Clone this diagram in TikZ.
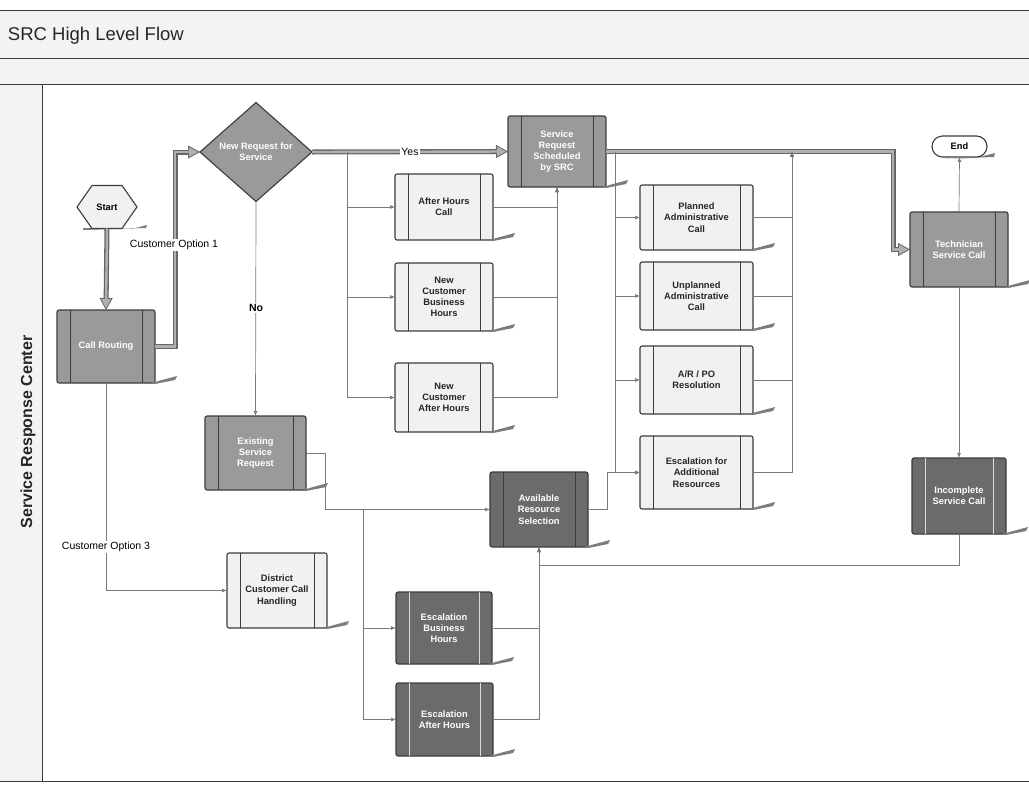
\documentclass[tikz,border=0pt]{standalone}
\usepackage{fontspec}
\setmainfont{Liberation Sans}
\usetikzlibrary{shapes.geometric,shapes.misc,arrows.meta,calc}
\definecolor{lightbox}{HTML}{F1F1F1}
\definecolor{midbox}{HTML}{9A9A9A}
\definecolor{darkbox}{HTML}{6B6B6B}
\definecolor{edge}{HTML}{3C3C3C}
\definecolor{wire}{HTML}{7A7A7A}
\definecolor{band}{HTML}{F3F3F3}
\definecolor{flowout}{HTML}{666666}
\definecolor{flowin}{HTML}{B0B0B0}
\definecolor{tailc}{HTML}{7C7C7C}
\definecolor{lightstripe}{HTML}{DADADA}
\begin{document}
\begin{tikzpicture}[x=1pt,y=-1pt,
  every node/.style={inner sep=0pt, outer sep=0pt},
  boxtxt/.style={font=\fontsize{9.3}{11.2}\selectfont\bfseries, align=center},
  procbox/.style={rectangle, rounded corners=2pt, draw=edge, line width=1.1pt, boxtxt},
  lightp/.style={procbox, fill=lightbox, text=black!85},
  midp/.style={procbox, fill=midbox, text=white},
  darkp/.style={procbox, fill=darkbox, text=white},
  wirel/.style={draw=wire, line width=0.7pt},
  wirea/.style={wirel, -{Latex[length=5pt,width=4pt]}},
  thickout/.style={line width=5pt, draw=flowout, line join=miter, -{Triangle[length=12pt,width=13pt,fill=flowin,line width=0.8pt]}},
  thickin/.style={line width=2.4pt, draw=flowin, line join=miter, shorten >=11pt},
  lbl/.style={fill=white, font=\fontsize{10.5}{12}\selectfont, inner sep=1pt},
]
\useasboundingbox (0,0) rectangle (1029,785);
% frame / bands
\fill[white] (0,0) rectangle (1029,785);
\fill[band] (0,10) rectangle (1029,84);
\fill[band] (0,84) rectangle (42,781);
\draw[edge, line width=0.9pt] (0,10) -- (1029,10);
\draw[edge, line width=0.9pt] (0,58) -- (1029,58);
\draw[edge, line width=0.9pt] (0,84) -- (1029,84);
\draw[edge, line width=0.9pt] (42,84) -- (42,781);
\draw[edge, line width=0.9pt] (0,781) -- (1029,781);
\node[anchor=base west, font=\fontsize{18.5}{22}\selectfont, text=black!85] (title) at (8,40) {SRC High Level Flow};
\node[rotate=90, font=\fontsize{16}{19}\selectfont\bfseries, text=black!85] (lane) at (28,432) {Service Response Center};

% start hexagon
\coordinate (sc) at (107,207);
\fill[tailc] (132,229) -- (147,225) -- (146,228) -- (83,230) -- (83,228) -- cycle;
\draw[fill=lightbox, draw=edge, line width=1.1pt] ($(sc)+(-30,0)$) -- ($(sc)+(-15,-21.5)$) -- ($(sc)+(15,-21.5)$) -- ($(sc)+(30,0)$) -- ($(sc)+(15,21.5)$) -- ($(sc)+(-15,21.5)$) -- cycle;
\node[boxtxt, minimum width=60pt, minimum height=43pt] (start) at (sc) {Start};

% end terminator
\fill[tailc] (975,158) -- (995,153) -- (994,157) -- (940,159) -- cycle;
\node[rounded rectangle, draw=edge, line width=1.1pt, fill=white, boxtxt, minimum width=55pt, minimum height=21pt] (endn) at (959.5,146.5) {End};

% diamond
\node[diamond, draw=edge, line width=1.1pt, fill=midbox, text=white, boxtxt, minimum width=112pt, minimum height=99pt] (dia) at (256,152) {New Request for\\Service};

% process boxes
\node[midp, minimum width=98pt, minimum height=73pt] (callr) at (106,346.5) {Call Routing};
\node[lightp, minimum width=98pt, minimum height=66pt] (ahc) at (444,207) {After Hours\\Call};
\node[lightp, minimum width=98pt, minimum height=68pt] (ncbh) at (444,297) {New\\Customer\\Business\\Hours};
\node[lightp, minimum width=98pt, minimum height=69pt] (ncah) at (444,397.5) {New\\Customer\\After Hours};
\node[midp, minimum width=98pt, minimum height=71pt] (srs) at (557,151.5) {Service\\Request\\Scheduled\\by SRC};
\node[lightp, minimum width=113pt, minimum height=65pt] (pac) at (696.5,217.5) {Planned\\Administrative\\Call};
\node[lightp, minimum width=113pt, minimum height=68pt] (uac) at (696.5,296) {Unplanned\\Administrative\\Call};
\node[lightp, minimum width=113pt, minimum height=68pt] (arpo) at (696.5,380) {A/R / PO\\Resolution};
\node[lightp, minimum width=113pt, minimum height=73pt] (efar) at (696.5,472.5) {Escalation for\\Additional\\Resources};
\node[midp, minimum width=98pt, minimum height=75pt] (tech) at (959,249.5) {Technician\\Service Call};
\node[darkp, minimum width=94pt, minimum height=76pt] (inc) at (959,496) {Incomplete\\Service Call};
\node[darkp, minimum width=98pt, minimum height=75pt] (ars) at (539,509.5) {Available\\Resource\\Selection};
\node[midp, minimum width=101pt, minimum height=74pt] (esr) at (255.5,453) {Existing\\Service\\Request};
\node[lightp, minimum width=100pt, minimum height=75pt] (dcch) at (277,590.5) {District\\Customer Call\\Handling};
\node[darkp, minimum width=96pt, minimum height=72pt] (ebh) at (444,628) {Escalation\\Business\\Hours};
\node[darkp, minimum width=97pt, minimum height=73pt] (eah) at (444.5,719.5) {Escalation\\After Hours};

% stripes and shadow tails
\foreach \n/\c in {callr/edge, ahc/edge, ncbh/edge, ncah/edge, srs/edge, pac/edge, uac/edge, arpo/edge, efar/edge, tech/edge, esr/edge, dcch/edge, inc/lightstripe, ars/edge, ebh/lightstripe, eah/lightstripe} {
  \draw[draw=\c, line width=1pt] ([xshift=13pt]\n.north west) -- ([xshift=13pt]\n.south west);
  \draw[draw=\c, line width=1pt] ([xshift=-13pt]\n.north east) -- ([xshift=-13pt]\n.south east);
  \fill[tailc] ([xshift=-4pt]\n.south east) -- ++(26,-7) -- ++(-2,4) -- ++(-20,4) -- cycle;
}

% thick main flow
\draw[thickout] (start.south) -- (callr.north);
\draw[thickin] (start.south) -- (callr.north);
\draw[thickout] (callr.east) -| (175,152) -- (dia.west);
\draw[thickin] (callr.east) -| (175,152) -- (dia.west);
\draw[thickout] (dia.east) -- (srs.west);
\draw[thickin] (dia.east) -- (srs.west);
\draw[thickout] (srs.east) -- (893,151.5) -- (893,249.5) -- (tech.west);
\draw[thickin] (srs.east) -- (893,151.5) -- (893,249.5) -- (tech.west);

% thin connectors: new request branches
\coordinate (b1) at (347,152);
\draw[wirea] (b1) |- (ahc.west);
\draw[wirea] (b1) |- (ncbh.west);
\draw[wirea] (b1) |- (ncah.west);
\draw[wirea] (ahc.east) -| (srs.south);
\draw[wirea] (ncbh.east) -| (srs.south);
\draw[wirea] (ncah.east) -| (srs.south);

% administrative branches
\coordinate (b2) at (615,151.5);
\coordinate (m1) at (792,151.5);
\draw[wirea] (b2) |- (pac.west);
\draw[wirea] (b2) |- (uac.west);
\draw[wirea] (b2) |- (arpo.west);
\draw[wirea] (b2) |- (efar.west);
\draw[wirea] (pac.east) -| (m1);
\draw[wirea] (uac.east) -| (m1);
\draw[wirea] (arpo.east) -| (m1);
\draw[wirea] (efar.east) -| (m1);
\draw[wirea] (ars.east) -- ++(19,0) |- (efar.west);

% no branch
\draw[wirea] (dia.south) -- (esr.north);
\draw[wirea] (esr.east) -- ++(19,0) |- (ars.west);
\coordinate (b3) at (363,509.5);
\draw[wirea] (b3) |- (ebh.west);
\draw[wirea] (b3) |- (eah.west);
\draw[wirea] (ebh.east) -| (ars.south);
\draw[wirea] (eah.east) -| (ars.south);

% technician
\draw[wirea] (tech.north) -- (endn.south);
\draw[wirea] (tech.south) -- (inc.north);
\draw[wirea] (inc.south) -- ++(0,31) -| (ars.south);

% option 3
\draw[wirea] (callr.south) |- (dcch.west);

% labels
\node[lbl] (opt1) at (174,245) {Customer Option 1};
\node[lbl] (yes) at (410,152) {Yes};
\node[lbl, font=\fontsize{10.5}{12}\selectfont\bfseries] (no) at (256,308) {No};
\node[lbl] (opt3) at (106,547) {Customer Option 3};
\end{tikzpicture}
\end{document}
